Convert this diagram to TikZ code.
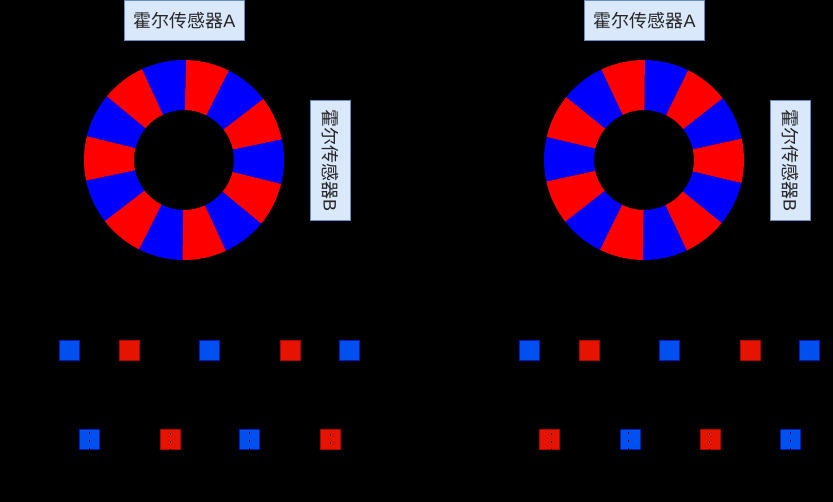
\documentclass[tikz,border=0pt]{standalone}
\usepackage{fontspec}
\setmainfont{Noto Sans CJK SC}
\newfontfamily\latinlabel{Liberation Sans}
\definecolor{lbfill}{HTML}{DAE8FC}
\definecolor{lbdraw}{HTML}{6C8EBF}
\definecolor{sqblue}{HTML}{0050EF}
\definecolor{sqbluedraw}{HTML}{001DBC}
\definecolor{sqred}{HTML}{E51400}
\definecolor{sqreddraw}{HTML}{B20000}
\tikzset{
  sensorh/.style={draw=lbdraw,fill=lbfill,line width=1pt,minimum width=120pt,minimum height=40pt,inner sep=0pt,text=black!85,font=\fontsize{18}{20}\selectfont},
  sensorv/.style={sensorh,rotate=-90},
  bsq/.style={draw=sqbluedraw,fill=sqblue,line width=1pt,minimum size=20pt,inner sep=0pt},
  rsq/.style={draw=sqreddraw,fill=sqred,line width=1pt,minimum size=20pt,inner sep=0pt},
  dotline/.style={black,line width=1pt,dash pattern=on 2pt off 6pt}
}
\newcommand{\magring}[4]{% cx, start angle offset, first colour, second colour
  \foreach \k in {0,...,13}{
    \pgfmathsetmacro{\angA}{90-#2-\k*360/14}
    \pgfmathsetmacro{\angB}{90-#2-(\k+1)*360/14}
    \pgfmathtruncatemacro{\wedgeodd}{mod(\k,2)}
    \ifnum\wedgeodd=0 \def\wc{#3}\else\def\wc{#4}\fi
    \fill[\wc] ([shift={(\angA:100pt)}]#1,160) arc[start angle=\angA,end angle=\angB,radius=100pt]
      -- ([shift={(\angB:50pt)}]#1,160) arc[start angle=\angB,end angle=\angA,radius=50pt] -- cycle;
  }
}
\begin{document}
\begin{tikzpicture}[x=1pt,y=-1pt]
\useasboundingbox (0,0) rectangle (833,502);
\fill[black] (0,0) rectangle (833,502);
\magring{184}{1}{red}{blue}
\magring{644}{0.5}{blue}{red}
\node[sensorh] (la) at (184.5,20.3) {霍尔传感器{\latinlabel A}};
\node[sensorv] (lb) at (330.5,160.3) {霍尔传感器{\latinlabel B}};
\node[sensorh] (ra) at (644.5,20.3) {霍尔传感器{\latinlabel A}};
\node[sensorv] (rb) at (790.5,160.3) {霍尔传感器{\latinlabel B}};
% top rows
\node[bsq] (l1) at (69.5,350.5) {};
\node[rsq] (l2) at (129.5,350.5) {};
\node[bsq] (l3) at (209.5,350.5) {};
\node[rsq] (l4) at (290.5,350.5) {};
\node[bsq] (l5) at (349.5,350.5) {};
\node[bsq] (r1) at (529.5,350.5) {};
\node[rsq] (r2) at (589.5,350.5) {};
\node[bsq] (r3) at (669.5,350.5) {};
\node[rsq] (r4) at (750.5,350.5) {};
\node[bsq] (r5) at (809.5,350.5) {};
% bottom rows
\node[bsq] (m1) at (89.5,439.5) {};
\node[rsq] (m2) at (170.5,439.5) {};
\node[bsq] (m3) at (249.5,439.5) {};
\node[rsq] (m4) at (330.5,439.5) {};
\node[rsq] (s1) at (549.5,439.5) {};
\node[bsq] (s2) at (630.5,439.5) {};
\node[rsq] (s3) at (710.5,439.5) {};
\node[bsq] (s4) at (790.5,439.5) {};
% dashed verticals, seen only across the squares
\draw[dotline] (89,431.7) -- (89,450);
\draw[dotline] (170,433.3) -- (170,450);
\draw[dotline] (249.3,431.7) -- (249.3,450);
\draw[dotline] (330.3,434.3) -- (330.3,445);
\draw[dotline] (551.3,433.3) -- (551.3,450);
\draw[dotline] (628.3,431.7) -- (628.3,450);
\draw[dotline] (709.5,433.3) -- (709.5,450);
\draw[dotline] (790,431.7) -- (790,450);
\end{tikzpicture}
\end{document}
